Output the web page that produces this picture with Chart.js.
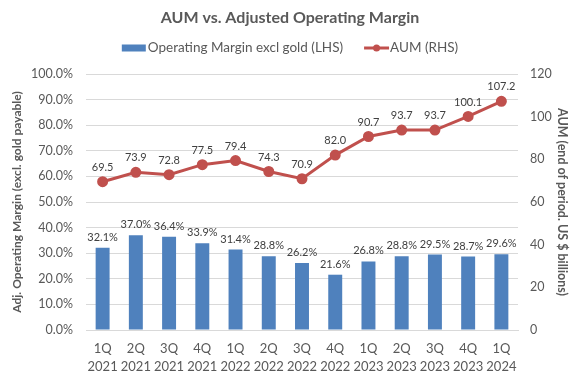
<!DOCTYPE html>
<html>
<head>
<meta charset="utf-8">
<script src="https://cdn.jsdelivr.net/npm/chart.js@4.4.0/dist/chart.umd.min.js"></script>
<style>
  html, body { margin: 0; padding: 0; background: #fff; }
  #wrap { width: 580px; height: 377px; }
</style>
</head>
<body>
<div id="wrap"><canvas id="aumChart"></canvas></div>
<script>
// datos
const quarters = ['1Q', '2Q', '3Q', '4Q', '1Q', '2Q', '3Q', '4Q', '1Q', '2Q', '3Q', '4Q', '1Q']
const years = ['2021', '2021', '2021', '2021', '2022', '2022', '2022', '2022', '2023', '2023', '2023', '2023', '2024']
const marginPct = [32.1, 37.0, 36.4, 33.9, 31.4, 28.8, 26.2, 21.6, 26.8, 28.8, 29.5, 28.7, 29.6]
const aumBillions = [69.5, 73.9, 72.8, 77.5, 79.4, 74.3, 70.9, 82.0, 90.7, 93.7, 93.7, 100.1, 107.2]

const FONT = 'Lato, "Open Sans", sans-serif'
const GREY = '#595959'
const BLUE = '#4F81BD'
const RED = '#C0504D'

// etiquetas de datos encima de barras y puntos
const valueLabels = {
    id: 'valueLabels',
    afterDatasetsDraw(chart) {
        const ctx = chart.ctx
        ctx.save()
        ctx.font = '11px ' + FONT
        ctx.fillStyle = '#404040'
        ctx.textAlign = 'center'
        ctx.textBaseline = 'bottom'
        chart.data.datasets.forEach(function (ds, i) {
            const meta = chart.getDatasetMeta(i)
            meta.data.forEach(function (el, j) {
                const v = ds.data[j]
                if (ds.type === 'bar') {
                    ctx.fillText(v.toFixed(1) + '%', el.x, el.y - 5)
                } else {
                    ctx.fillText(v.toFixed(1), el.x, el.y - 9)
                }
            })
        })
        ctx.restore()
    }
}

// titulo y leyenda dibujados a mano (estilo excel)
const headerPlugin = {
    id: 'headerPlugin',
    afterDraw(chart) {
        const ctx = chart.ctx
        const cx = chart.width / 2
        ctx.save()
        ctx.fillStyle = GREY
        ctx.textAlign = 'center'
        ctx.textBaseline = 'middle'
        ctx.font = 'bold 16px ' + FONT
        ctx.fillText('AUM vs. Adjusted Operating Margin', cx, 18)

        const barDs = chart.data.datasets[1], lineDs = chart.data.datasets[0]
        ctx.font = '13.5px ' + FONT
        const w1 = ctx.measureText(barDs.label).width
        const w2 = ctx.measureText(lineDs.label).width
        const total = 24 + 2 + w1 + 21 + 25 + 1 + w2
        let x = cx - total / 2
        const y = 48
        ctx.fillStyle = barDs.backgroundColor
        ctx.fillRect(x, y - 3.5, 24, 7)
        x += 26
        ctx.fillStyle = GREY
        ctx.textAlign = 'left'
        ctx.fillText(barDs.label, x, y)
        x += w1 + 21
        ctx.strokeStyle = lineDs.borderColor
        ctx.lineWidth = 3
        ctx.beginPath()
        ctx.moveTo(x, y)
        ctx.lineTo(x + 25, y)
        ctx.stroke()
        ctx.fillStyle = lineDs.borderColor
        ctx.beginPath()
        ctx.arc(x + 12.5, y, 3.5, 0, Math.PI * 2)
        ctx.fill()
        x += 26
        ctx.fillStyle = GREY
        ctx.fillText(lineDs.label, x, y)
        ctx.restore()
    }
}

new Chart(document.getElementById('aumChart'), {
    data: {
        labels: quarters.map(function (q, i) { return [q, years[i]] }),
        datasets: [{
            type: 'line',
            label: 'AUM (RHS)',
            data: aumBillions,
            yAxisID: 'y1',
            borderColor: RED,
            backgroundColor: RED,
            borderWidth: 3,
            pointRadius: 4,
            pointHoverRadius: 4,
            tension: 0,
            order: 0
        }, {
            type: 'bar',
            label: 'Operating Margin excl gold (LHS)',
            data: marginPct,
            yAxisID: 'y',
            backgroundColor: BLUE,
            categoryPercentage: 1,
            barPercentage: 0.42,
            order: 1
        }]
    },
    options: {
        responsive: true,
        maintainAspectRatio: false,
        animation: false,
        layout: { padding: { left: 6, right: 6, top: 74, bottom: 0 } },
        plugins: {
            title: { display: false },
            legend: { display: false },
            tooltip: { enabled: false }
        },
        scales: {
            x: {
                grid: { display: false, drawTicks: false },
                border: { color: '#d9d9d9' },
                ticks: {
                    color: GREY,
                    font: { family: FONT, size: 13, lineHeight: 1.45 },
                    maxRotation: 0,
                    autoSkip: false,
                    padding: 9
                },
                afterFit: function (scale) { scale.height = 47 }
            },
            y: {
                position: 'left',
                min: 0,
                max: 100,
                ticks: {
                    stepSize: 10,
                    color: GREY,
                    font: { family: FONT, size: 12.5 },
                    padding: 13,
                    callback: function (v) { return v.toFixed(1) + '%' }
                },
                grid: { color: '#d9d9d9', drawTicks: false },
                border: { display: false },
                title: {
                    display: true,
                    text: 'Adj. Operating Margin (excl. gold payable)',
                    color: GREY,
                    font: { family: FONT, size: 12, weight: 'bold' }
                },
                afterFit: function (scale) { scale.width = 80 }
            },
            y1: {
                position: 'right',
                min: 0,
                max: 120,
                ticks: {
                    stepSize: 20,
                    color: GREY,
                    font: { family: FONT, size: 12.5 },
                    padding: 12
                },
                grid: { display: false, drawTicks: false },
                border: { display: false },
                title: {
                    display: true,
                    text: 'AUM (end of period. US $ billions)',
                    color: GREY,
                    font: { family: FONT, size: 12.5, weight: 'bold' }
                },
                afterFit: function (scale) { scale.width = 56 }
            }
        }
    },
    plugins: [valueLabels, headerPlugin]
})
</script>
</body>
</html>
